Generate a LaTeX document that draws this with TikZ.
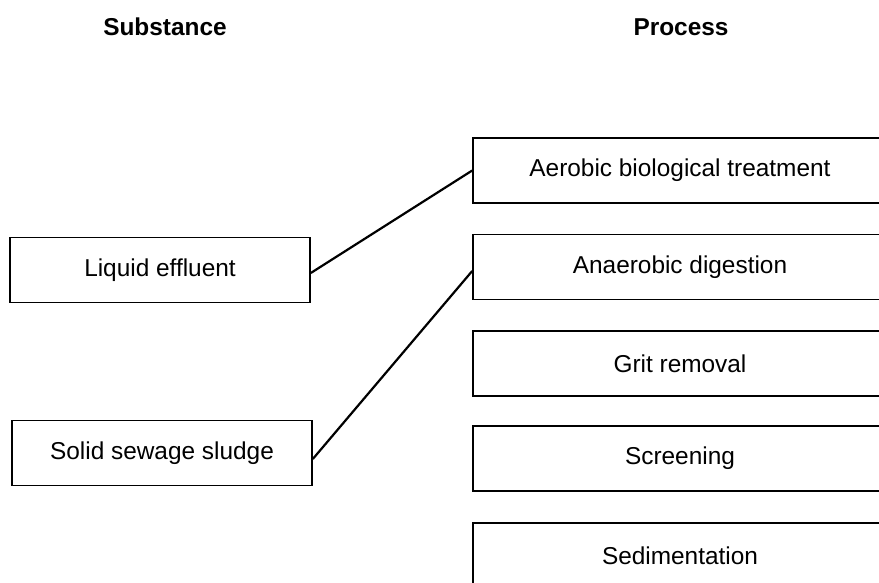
\documentclass[tikz,border=0pt]{standalone}
\usepackage{fontspec}
\setmainfont{Liberation Sans}
\usetikzlibrary{positioning}
\tikzset{box/.style={draw,line width=1.6pt,minimum height=65pt,inner sep=0pt,font=\fontsize{24.4}{28}\selectfont}}
\tikzset{subst/.style={box,minimum width=300pt}}
\tikzset{proc/.style={box,minimum width=414pt}}
\tikzset{head/.style={font=\fontsize{24.4}{28}\selectfont\bfseries}}
\tikzset{link/.style={line width=2.2pt}}

\begin{document}
\begin{tikzpicture}[x=1pt,y=-1pt]
\useasboundingbox (0,0) rectangle (879,582);
\clip (0,0) rectangle (879,582);

\node[head] (hsub) at (165,27) {Substance};
\node[head] (hproc) at (681,27) {Process};

\begin{scope}[on grid]
\node[subst] (liq) at (160,270) {Liquid effluent};
\node[subst] (sol) [below right = 183pt and 2pt of liq] {Solid sewage sludge};

\node[proc] (aer) at (680,170.5) {Aerobic biological treatment};
\node[proc] (ana) [below = 96.5pt of aer] {Anaerobic digestion};
\node[proc] (grit) [below = 96.5pt of ana] {Grit removal};
\node[proc] (scr) [below = 95pt of grit] {Screening};
\node[proc] (sed) [below = 97pt of scr] {Sedimentation};
\end{scope}

\draw[link] ([yshift=-3pt]liq.east) -- (aer.west);
\draw[link] ([yshift=-6pt]sol.east) -- ([yshift=-4pt]ana.west);
\end{tikzpicture}
\end{document}
